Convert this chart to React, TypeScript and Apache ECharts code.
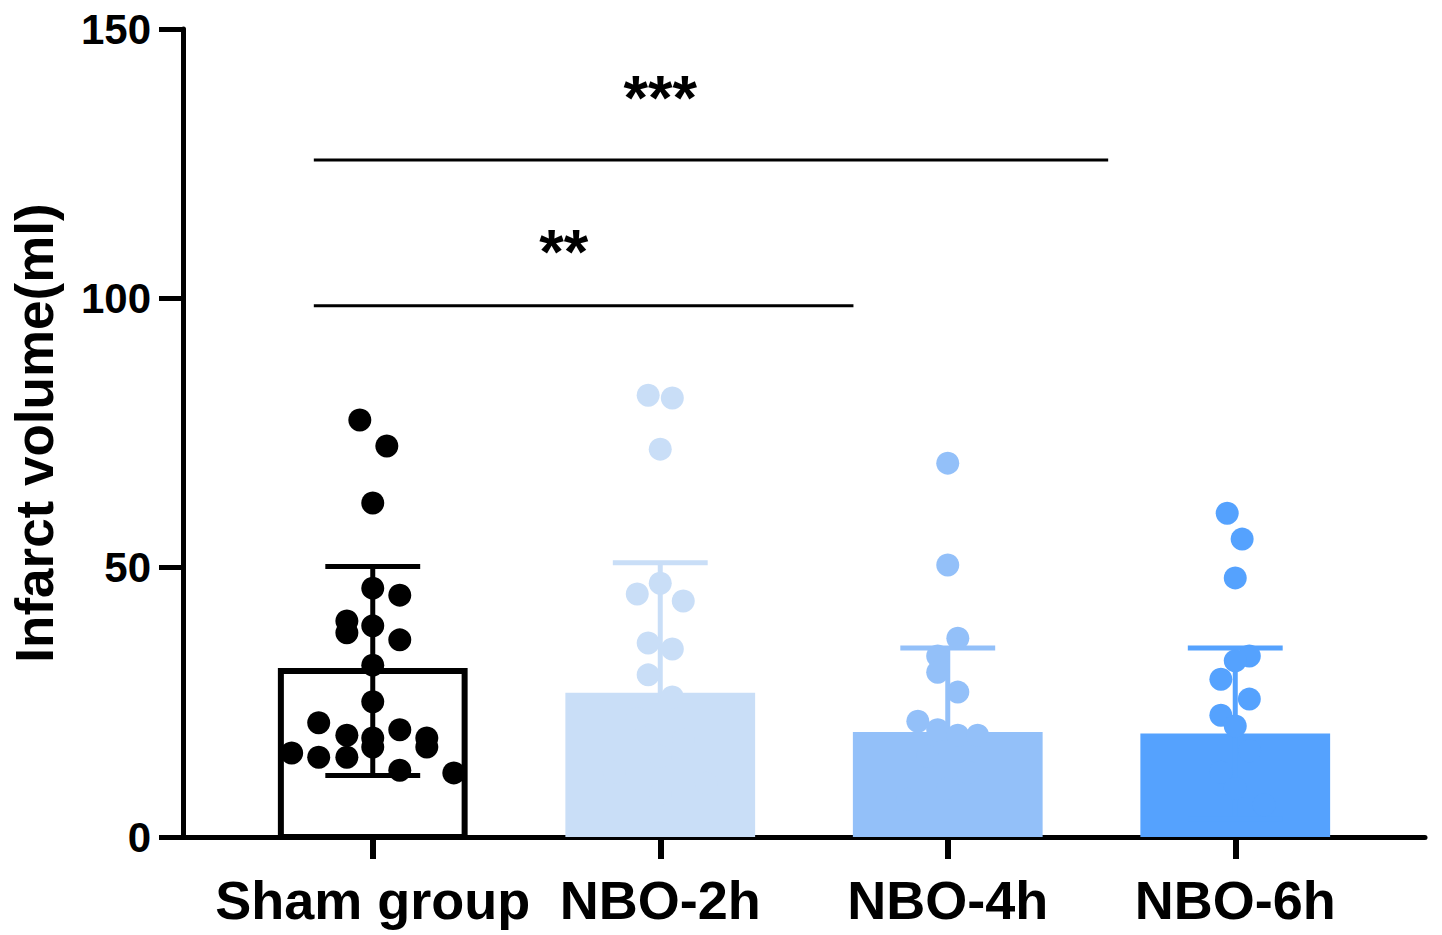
import React, { useEffect, useRef } from "react";
import * as echarts from "echarts";

// ---------- data ----------
const categories = ["Sham group", "NBO-2h", "NBO-4h", "NBO-6h"];
const barColors = ["#FFFFFF", "#C9DEF7", "#93C0F9", "#55A2FE"];
const dotColors = ["#000000", "#C9DEF7", "#93C0F9", "#55A2FE"];
const means = [30.8, 26.8, 19.5, 19.2];
const sds = [19.4, 24.1, 15.6, 15.9];

const shamValues = [77.4, 72.6, 62.0, 46.2, 44.9, 40.1, 37.9, 39.2, 36.6, 31.9, 25.1, 21.2, 18.9, 18.4, 19.9, 18.4, 16.7, 16.7, 15.6, 14.8, 14.8, 12.4, 11.9];
const shamJitter = [-0.045, 0.049, 0, 0, 0.094, -0.09, -0.09, 0, 0.094, 0, 0, -0.188, -0.09, 0, 0.094, 0.188, 0.188, 0, -0.282, -0.188, -0.09, 0.094, 0.282];

const nbo2Values = [82.0, 81.5, 72.0, 47.1, 45.1, 43.8, 36.0, 34.9, 30.1, 26.0, 22.0, 18.0, 15.0, 12.0, 10.0, 8.0];
const nbo2Jitter = [-0.042, 0.042, 0, 0, -0.08, 0.08, -0.042, 0.042, -0.042, 0.042, -0.08, 0.08, 0, -0.16, 0.16, 0];

const nbo4Values = [69.4, 50.5, 36.9, 33.6, 30.6, 26.9, 21.5, 19.9, 18.9, 18.9, 15.0, 12.0, 9.0, 7.0];
const nbo4Jitter = [0, 0, 0.035, -0.035, -0.035, 0.035, -0.104, -0.035, 0.035, 0.104, -0.07, 0.07, 0, -0.14];

const nbo6Values = [60.1, 55.3, 48.1, 33.6, 32.7, 29.3, 25.6, 22.6, 20.6, 16.0, 12.0, 9.0, 6.0];
const nbo6Jitter = [-0.028, 0.024, 0, 0.049, 0, -0.05, 0.049, -0.05, 0, 0.05, -0.05, 0, 0.1];

const groupValues = [shamValues, nbo2Values, nbo4Values, nbo6Values];
const groupJitter = [shamJitter, nbo2Jitter, nbo4Jitter, nbo6Jitter];

const yTicks = [0, 50, 100, 150];

// significance brackets
const sigStart = [-0.205, -0.205];
const sigEnd = [1.672, 2.558];
const sigLevel = [98.6, 125.7];
const sigLabels = ["**", "***"];
const sigLabelX = [0.664, 1.0];
const sigLabelY = [110.5, 139.1];

const FONT = "'Liberation Sans', Arial, Helvetica, sans-serif";

export default function App() {
  const ref = useRef<HTMLDivElement>(null);

  useEffect(() => {
    document.body.style.margin = "0";
    if (!ref.current) return;
    const chart = echarts.init(ref.current, undefined, { renderer: "svg" });

    const catIdx = categories.map((_, i) => i);

    const barSeries = {
      type: "custom",
      z: 1,
      clip: false,
      data: means.map((m, i) => [i, m]),
      renderItem: (params: any, api: any) => {
        const i = api.value(0);
        const m = api.value(1);
        const top = api.coord([i, m]);
        const bottom = api.coord([i, 0]);
        const w = api.size([0.66, 0])[0];
        const bw = 6;
        if (i === 0) {
          return {
            type: "rect",
            shape: { x: top[0] - w / 2 + bw / 2, y: top[1], width: w - bw, height: bottom[1] - top[1] },
            style: { fill: barColors[i], stroke: "#000", lineWidth: bw },
          };
        }
        return {
          type: "rect",
          shape: { x: top[0] - w / 2, y: top[1], width: w, height: bottom[1] - top[1] },
          style: { fill: barColors[i] },
        };
      },
    };

    const errSeries = {
      type: "custom",
      z: 2,
      clip: false,
      data: means.map((m, i) => [i, m, sds[i]]),
      renderItem: (params: any, api: any) => {
        const i = api.value(0);
        const m = api.value(1);
        const s = api.value(2);
        const hi = api.coord([i, m + s]);
        const lo = api.coord([i, Math.max(0, m - s)]);
        const cw = api.size([0.33, 0])[0];
        const color = i === 0 ? "#000" : dotColors[i];
        return {
          type: "group",
          children: [
            { type: "line", shape: { x1: hi[0], y1: hi[1], x2: lo[0], y2: lo[1] }, style: { stroke: color, lineWidth: 5 } },
            { type: "line", shape: { x1: hi[0] - cw / 2, y1: hi[1], x2: hi[0] + cw / 2, y2: hi[1] }, style: { stroke: color, lineWidth: 5 } },
            { type: "line", shape: { x1: lo[0] - cw / 2, y1: lo[1], x2: lo[0] + cw / 2, y2: lo[1] }, style: { stroke: color, lineWidth: 5 } },
          ],
        };
      },
    };

    const scatterSeries = groupValues.map((vals, g) => ({
      type: "scatter",
      z: 3,
      symbol: "circle",
      symbolSize: 23,
      itemStyle: { color: dotColors[g], opacity: 1 },
      data: vals.map((v, k) => [g + groupJitter[g][k], v]),
      silent: true,
    }));

    const sigSeries = {
      type: "custom",
      z: 4,
      clip: false,
      data: sigStart.map((s, k) => [s, sigEnd[k], sigLevel[k], sigLabelX[k], sigLabelY[k], k]),
      renderItem: (params: any, api: any) => {
        const p1 = api.coord([api.value(0), api.value(2)]);
        const p2 = api.coord([api.value(1), api.value(2)]);
        const t = api.coord([api.value(3), api.value(4)]);
        const k = api.value(5);
        const fs = 63;
        return {
          type: "group",
          children: [
            { type: "line", shape: { x1: p1[0], y1: p1[1], x2: p2[0], y2: p2[1] }, style: { stroke: "#000", lineWidth: 3 } },
            {
              type: "text",
              x: t[0],
              y: t[1] + fs * 0.14,
              style: {
                text: sigLabels[k],
                fontSize: fs,
                fontWeight: "bold",
                fontFamily: FONT,
                fill: "#000",
                align: "center",
                verticalAlign: "middle",
              },
            },
          ],
        };
      },
    };

    chart.setOption({
      animation: false,
      backgroundColor: "#FFFFFF",
      grid: { left: 182, right: 17, top: 29, bottom: 98, containLabel: false },
      xAxis: {
        type: "value",
        min: -0.66,
        max: 3.66,
        splitLine: { show: false },
        axisLine: { show: true, onZero: false, lineStyle: { color: "#000", width: 5 } },
        axisTick: { show: true, customValues: catIdx, length: 22, lineStyle: { color: "#000", width: 6 } },
        axisLabel: {
          show: true,
          customValues: catIdx,
          formatter: (v: number) => categories[Math.round(v)] ?? "",
          fontSize: 54,
          fontWeight: "bold",
          fontFamily: FONT,
          color: "#000",
          margin: 36,
        },
      },
      yAxis: {
        type: "value",
        min: 0,
        max: 150,
        interval: 50,
        name: "Infarct volume(ml)",
        nameLocation: "middle",
        nameRotate: 90,
        nameGap: 122,
        nameTextStyle: { fontSize: 53, fontWeight: "bold", fontFamily: FONT, color: "#000" },
        splitLine: { show: false },
        axisLine: { show: true, onZero: false, lineStyle: { color: "#000", width: 5 } },
        axisTick: { show: true, length: 24, lineStyle: { color: "#000", width: 5 } },
        axisLabel: {
          fontSize: 42,
          fontWeight: "bold",
          fontFamily: FONT,
          color: "#000",
          margin: 32,
          formatter: (v: number) => (yTicks.includes(v) ? String(v) : ""),
        },
      },
      series: [barSeries, errSeries, ...scatterSeries, sigSeries],
    });

    return () => chart.dispose();
  }, []);

  return (
    <div
      ref={ref}
      style={{ position: "absolute", left: 0, top: 0, width: 1442, height: 935, background: "#fff" }}
    />
  );
}
